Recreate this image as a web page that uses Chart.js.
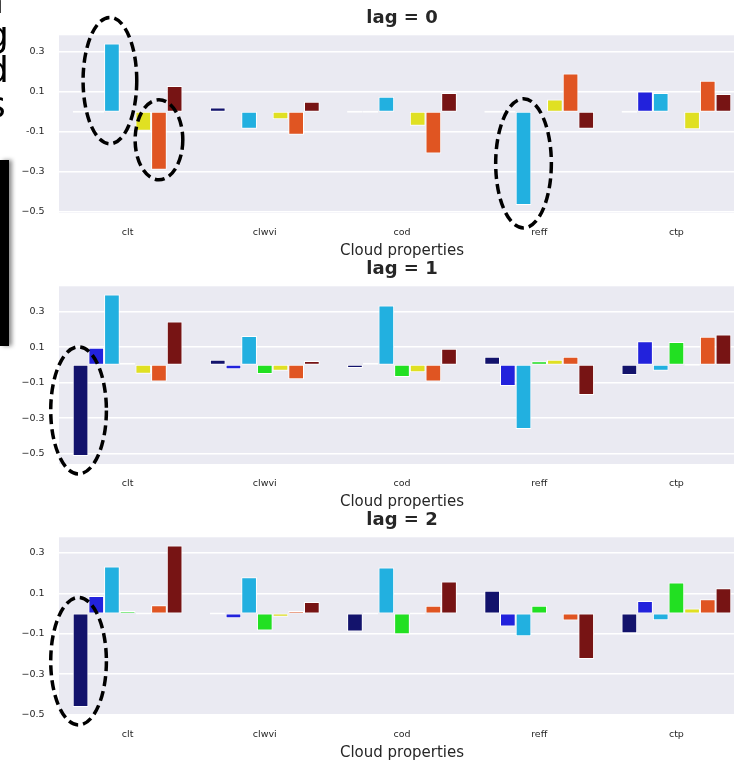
<!DOCTYPE html>
<html>
<head>
<meta charset="utf-8">
<script src="https://cdn.jsdelivr.net/npm/chart.js@4.4.0/dist/chart.umd.min.js"></script>
<style>
    html, body { margin: 0; padding: 0; background: #fff; width: 734px; height: 763px; overflow: hidden; position: relative; }
    .panel { position: absolute; left: 0; width: 745px; height: 265px; }
    .panel canvas { display: block; }
    .frag { position: absolute; font-family: "DejaVu Sans", sans-serif; font-size: 36px; line-height: 1; color: #000; }
    #barraNegra { position: absolute; left: 0; top: 160px; width: 9px; height: 186px; background: #000; box-shadow: 3px 0 4px rgba(0, 0, 0, 0.45); }
</style>
</head>
<body>
<div class="panel" style="top:0px"><canvas id="graficoLag0" width="745" height="265"></canvas></div>
<div class="panel" style="top:251px"><canvas id="graficoLag1" width="745" height="265"></canvas></div>
<div class="panel" style="top:502px"><canvas id="graficoLag2" width="745" height="265"></canvas></div>

<span class="frag" style="left:-19px; top:-17px">n</span>
<span class="frag" style="left:-14px; top:17px">g</span>
<span class="frag" style="left:-14px; top:52px">d</span>
<span class="frag" style="left:-13px; top:87px">s</span>
<div id="barraNegra"></div>

<script>
// Categorias del eje x
const categorias = ['clt', 'clwvi', 'cod', 'reff', 'ctp']

// Valores por lag: una fila por serie (azul marino, azul, celeste, verde, amarillo, naranja, rojo oscuro)
const lag0 = [
    [0, 0.022, 0, 0, 0],
    [0, null, 0, 0, 0.102],
    [0.343, -0.085, 0.075, -0.467, 0.094],
    [null, null, null, null, null],
    [-0.095, -0.037, -0.070, 0.062, -0.087],
    [-0.291, -0.115, -0.209, 0.192, 0.156],
    [0.129, 0.050, 0.094, -0.085, 0.089]
]

const lag1 = [
    [-0.512, 0.029, -0.018, 0.046, -0.057],
    [0.096, -0.025, 0.008, -0.119, 0.132],
    [0.396, 0.162, 0.334, -0.361, -0.033],
    [0.010, -0.052, -0.068, 0.020, 0.128],
    [-0.050, -0.033, -0.042, 0.029, 0],
    [-0.093, -0.081, -0.093, 0.046, 0.158],
    [0.243, 0.022, 0.091, -0.170, 0.170]
]

const lag2 = [
    [-0.462, 0, -0.089, 0.112, -0.097],
    [0.087, -0.023, 0, -0.064, 0.062],
    [0.232, 0.179, 0.227, -0.113, -0.033],
    [0.013, -0.084, -0.102, 0.038, 0.154],
    [0, -0.016, 0, null, 0.025],
    [0.041, 0.013, 0.039, -0.034, 0.071],
    [0.337, 0.057, 0.158, -0.225, 0.125]
]

// Marcas del eje y
const valoresTicks = [-0.5, -0.3, -0.1, 0.1, 0.3]
const etiquetasTicksLag0 = ['\u22120.5', '\u22120.3', '-0.1', '0.1', '0.3']
const etiquetasTicksLag12 = ['\u22120.5', '\u22120.3', '\u22120.1', '0.1', '0.3']

const coloresSeries = ['#13136c', '#2222dc', '#22b0e0', '#22e022', '#e0e022', '#e05522', '#771414']

// Elipses punteadas sobre barras concretas (lag, serie, categoria)
const elipses = [
    { lag: 0, serie: 2, cat: 0, padX: 19, padY: 29, dx: -2, dy: 3 },
    { lag: 0, serie: 5, cat: 0, padX: 16, padY: 11, dx: 0, dy: -1 },
    { lag: 0, serie: 2, cat: 3, padX: 20, padY: 18, dx: 0, dy: 5 },
    { lag: 1, serie: 0, cat: 0, padX: 20, padY: 18, dx: -2, dy: 0 },
    { lag: 2, serie: 0, cat: 0, padX: 20, padY: 17, dx: -2, dy: 1 }
]

const fuente = 'DejaVu Sans'
const colorTexto = '#262626'

const fondoArea = {
    id: 'fondoArea',
    beforeDraw(chart) {
        const { ctx, chartArea } = chart
        ctx.save()
        ctx.fillStyle = '#eaeaf2'
        ctx.fillRect(chartArea.left, chartArea.top, chartArea.right - chartArea.left, chartArea.bottom - chartArea.top)
        ctx.restore()
    }
}

const crearPluginElipses = (lag) => ({
    id: 'elipses' + lag,
    afterDraw(chart) {
        const ctx = chart.ctx
        elipses.filter(e => e.lag === lag).forEach(e => {
            const barra = chart.getDatasetMeta(e.serie).data[e.cat]
            const { x, y, base, width } = barra.getProps(['x', 'y', 'base', 'width'], true)
            const cx = x + e.dx
            const cy = (y + base) / 2 + e.dy
            const rx = width / 2 + e.padX
            const ry = Math.abs(base - y) / 2 + e.padY
            ctx.save()
            ctx.strokeStyle = '#000'
            ctx.lineWidth = 3.5
            ctx.setLineDash([10, 5])
            ctx.beginPath()
            ctx.ellipse(cx, cy, rx, ry, 0, 0, Math.PI * 2)
            ctx.stroke()
            ctx.restore()
        })
    }
})

//Generador de cada panel
const generarPanel = (idCanvas, lag, valores, etiquetasTicks) => {
    const todos = valores.flat().filter(v => v !== null)
    const minimo = Math.min(...todos)
    const maximo = Math.max(...todos)
    const margen = (maximo - minimo) * 0.05

    new Chart(document.getElementById(idCanvas), {
        type: 'bar',
        data: {
            labels: categorias,
            datasets: valores.map((fila, i) => ({
                label: 'serie ' + i,
                data: fila,
                backgroundColor: coloresSeries[i],
                borderColor: '#ffffff',
                borderWidth: 1,
                borderSkipped: false,
                minBarLength: 2,
                barPercentage: 1,
                categoryPercentage: 0.8
            }))
        },
        options: {
            responsive: false,
            animation: false,
            layout: { padding: 0 },
            plugins: {
                legend: { display: false },
                tooltip: { enabled: false },
                title: {
                    display: true,
                    text: 'lag = ' + lag,
                    fullSize: false,
                    color: colorTexto,
                    font: { family: fuente, size: 18, weight: 'bold' },
                    padding: { top: 8, bottom: 5.7 }
                }
            },
            scales: {
                x: {
                    grid: { display: false, drawTicks: false },
                    border: { display: false },
                    ticks: { padding: 14, color: colorTexto, font: { family: fuente, size: 9.5 } },
                    title: {
                        display: true,
                        text: 'Cloud properties',
                        color: colorTexto,
                        font: { family: fuente, size: 15 },
                        padding: { top: 0, bottom: 4.6 }
                    },
                    afterFit: (scale) => { scale.height = 52 }
                },
                y: {
                    min: minimo - margen,
                    max: maximo + margen,
                    afterBuildTicks: (scale) => { scale.ticks = valoresTicks.map(v => ({ value: v })) },
                    afterFit: (scale) => { scale.width = 59 },
                    grid: { color: '#ffffff', lineWidth: 1.5, drawTicks: false },
                    border: { display: false },
                    ticks: {
                        padding: 14.5,
                        color: colorTexto,
                        font: { family: fuente, size: 9.5 },
                        callback: (valor, indice) => etiquetasTicks[indice]
                    }
                }
            }
        },
        plugins: [fondoArea, crearPluginElipses(lag)]
    })
}

generarPanel('graficoLag0', 0, lag0, etiquetasTicksLag0)
generarPanel('graficoLag1', 1, lag1, etiquetasTicksLag12)
generarPanel('graficoLag2', 2, lag2, etiquetasTicksLag12)
</script>
</body>
</html>
